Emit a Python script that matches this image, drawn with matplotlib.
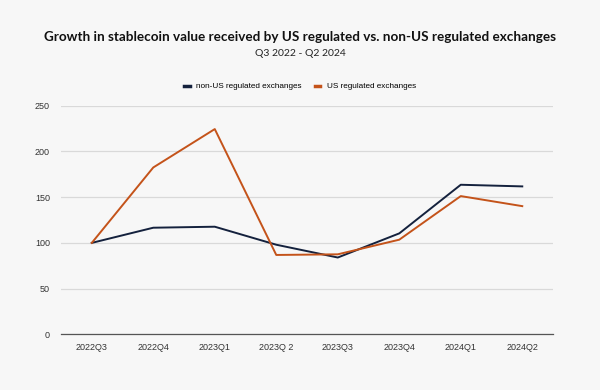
import matplotlib
matplotlib.use("Agg")
from matplotlib import pyplot as plt
import numpy as np

quarters = ["2022Q3", "2022Q4", "2023Q1", "2023Q 2", "2023Q3", "2023Q4", "2024Q1", "2024Q2"]
non_us = [100, 116.6, 117.7, 98, 84, 110.4, 163.6, 161.8]
us = [100, 182.5, 224.5, 86.8, 87.5, 103.5, 151.2, 140.2]

bg = "#f7f7f7"
navy = "#14213d"
orange = "#c4531a"

fig = plt.figure(figsize=(6, 3.9), dpi=100, facecolor=bg)
ax = fig.add_axes([0.1017, 0.1428, 0.82, 0.586], facecolor=bg)

x = np.arange(len(quarters))
ax.plot(x, non_us, color=navy, lw=1.4, label="non-US regulated exchanges")
ax.plot(x, us, color=orange, lw=1.4, label="US regulated exchanges")

ax.set_xlim(-0.5, len(quarters) - 0.5)
ax.set_ylim(0, 250)
ax.set_yticks([0, 50, 100, 150, 200, 250])
ax.set_xticks(x)
ax.set_xticklabels(quarters)
ax.tick_params(length=0, labelsize=6.5, colors="#333333")
ax.tick_params(axis="x", pad=6)
ax.tick_params(axis="y", pad=8)
for lab in ax.get_xticklabels() + ax.get_yticklabels():
    lab.set_family("Liberation Sans")

ax.grid(axis="y", color="#d9d9d9", lw=0.9)
ax.set_axisbelow(True)
for s in ["top", "right", "left"]:
    ax.spines[s].set_visible(False)
ax.spines["bottom"].set_color("#555555")
ax.spines["bottom"].set_linewidth(0.9)

fig.text(0.5, 0.904, "Growth in stablecoin value received by US regulated vs. non-US regulated exchanges",
         ha="center", va="center", fontsize=9.7, fontweight="bold", family="Lato", color="#111111")
fig.text(0.5, 0.862, "Q3 2022 - Q2 2024", ha="center", va="center", fontsize=7.5,
         family="Lato", color="#222222")

leg = fig.legend(loc="center", bbox_to_anchor=(0.5, 0.778), ncol=2, frameon=False,
                 prop={"family": "Liberation Sans", "size": 5.9}, handlelength=0.7,
                 columnspacing=1.6, handletextpad=0.8)
for h in leg.legend_handles:
    h.set_linewidth(2.5)

plt.savefig("out.png", dpi=100, facecolor=bg)
